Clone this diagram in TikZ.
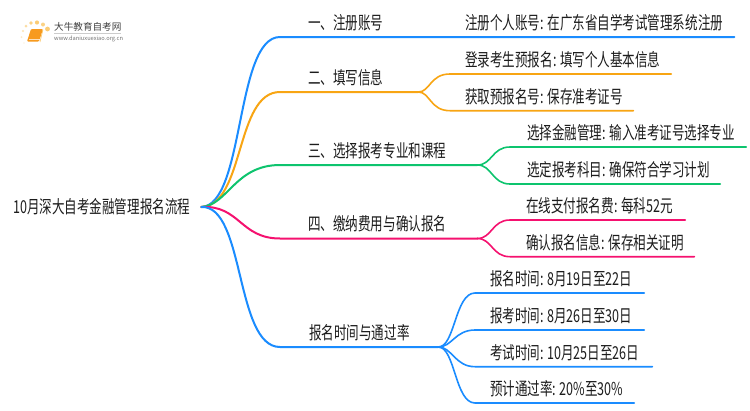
\documentclass[tikz,border=0pt]{standalone}
\usepackage{fontspec}
\setmainfont[FakeStretch=0.705]{Noto Sans CJK SC}
\newfontfamily\logofont{Noto Sans CJK SC}
\definecolor{cblue}{HTML}{1A8CFF}
\definecolor{corange}{HTML}{F8A513}
\definecolor{cgreen}{HTML}{0DC46E}
\definecolor{cpink}{HTML}{F5116F}
\definecolor{ctext}{HTML}{1C1C1C}
\definecolor{logoor}{HTML}{F79A1E}
\definecolor{logodot}{HTML}{FBC766}
\newcommand{\tightwords}{\frenchspacing\spaceskip=3.5pt\relax\xspaceskip=3.5pt\relax}
\tikzset{
  lab/.style={anchor=south west,inner xsep=0pt,inner ysep=0pt,align=left,text height=14pt,text depth=7.5pt,font=\fontsize{17.8}{20}\selectfont,execute at begin node=\tightwords,text=ctext},
  conn/.style={line width=1.6pt,line cap=round},
  trunk/.style={line width=2pt,line cap=round},
}
\begin{document}
\begin{tikzpicture}[x=1pt,y=-1pt]
\useasboundingbox (0,0) rectangle (750,410);
\fill[white] (0,0) rectangle (750,410);
% logo
\foreach \px/\py/\pr/\po in {47.5/29/2.4/.9,43/24.5/2/.8,37/22.5/2.1/.9,31/23/1.8/.8,26/26/1.5/.6,23/31/1.2/.5,21.5/37/1/.35,24/43/.9/.2}
  \fill[logodot,opacity=\po] (\px,\py) circle (\pr);
\fill[logoor,rounded corners=1pt] (27,41.5) -- (31,29) -- (43,29) -- (39,41.5) -- cycle;
\draw[white,opacity=.7,line width=.7pt] (29,39) -- (39.5,39);
\draw[logodot,line width=.6pt] (43,29.5) -- (40,42);
\node[inner sep=0pt,anchor=west,text=black!75,font=\logofont\fontsize{9.6}{10}\selectfont] (logoa) at (54,27) {大牛教育自考网};
\node[inner sep=0pt,anchor=west,text=black!55,font=\logofont\fontsize{5.7}{7}\selectfont] (logob) at (54,39) {www.daniuxuexiao.org.cn};
\draw[black!20,line width=.5pt] (logoa.south west)++(0,1.5) -- ++(67,0);
% root
\node[anchor=west,inner xsep=0pt,inner ysep=0pt,text width=188pt,align=left,text=ctext,font=\fontsize{17.8}{20}\selectfont] (root) at (13,207) {10月深大自考金融管理报名流程};
\coordinate (rootout) at (root.east);
% level one
\node[lab,text width=77pt] (a) at (308,37) {一、注册账号};
\node[lab,text width=110pt] (b) at (308,92) {二、填写信息};
\node[lab,text width=169pt] (c) at (308,165) {三、选择报考专业和课程};
\node[lab,text width=169pt] (d) at (308,238.5) {四、缴纳费用与确认报名};
\node[lab,text width=129pt] (e) at (309,347) {报名时间与通过率};
% level two
\node[lab,text width=269pt] (a1) at (465,37) {注册个人账号: 在广东省自学考试管理系统注册};
\node[lab,text width=206pt] (b1) at (465,74) {登录考生预报名: 填写个人基本信息};
\node[lab,text width=168pt] (b2) at (465,110.7) {获取预报名号: 保存准考证号};
\node[lab,text width=219pt] (c1) at (527,147) {选择金融管理: 输入准考证号选择专业};
\node[lab,text width=193pt] (c2) at (527,184) {选定报考科目: 确保符合学习计划};
\node[lab,text width=159pt] (d1) at (526,220) {在线支付报名费: 每科52元};
\node[lab,text width=168pt] (d2) at (526,256.7) {确认报名信息: 保存相关证明};
\node[lab,text width=154pt] (e1) at (490,293) {报名时间: 8月19日至22日};
\node[lab,text width=154pt] (e2) at (490,330) {报考时间: 8月26日至30日};
\node[lab,text width=162pt] (e3) at (490,366.7) {考试时间: 10月25日至26日};
\node[lab,text width=144pt] (e4) at (490,403) {预计通过率: 20\%至30\%};
% bends at the ends of the curves
\coordinate (ba) at (280,37);
\coordinate (bb) at (280,92);
\coordinate (bc) at (280,165);
\coordinate (bd) at (280,238.5);
\coordinate (be) at (280,347);
% connectors root -> level one
\draw[trunk,cblue] (rootout) .. controls (245,205) and (235,37) .. (ba) -- (a.south east) -- (a1.south east);
\draw[trunk,corange] (rootout) .. controls (245,205) and (235,92) .. (bb) -- (b.south east);
\draw[trunk,cgreen] (rootout) .. controls (228,205) and (235,165) .. (bc) -- (c.south east);
\draw[trunk,cpink] (rootout) .. controls (240,205) and (240,238.5) .. (bd) -- (d.south east);
\draw[trunk,cblue] (rootout) .. controls (245,205) and (235,347) .. (be) -- (e.south east);
% level one -> level two
\coordinate (bb1) at (450,74);
\coordinate (bb2) at (450,110.7);
\draw[conn,corange] (b.south east) .. controls (430,92) and (430,74) .. (bb1) -- (b1.south east);
\draw[conn,corange] (b.south east) .. controls (430,92) and (430,110.7) .. (bb2) -- (b2.south east);
\coordinate (bc1) at (510,147);
\coordinate (bc2) at (510,184);
\draw[conn,cgreen] (c.south east) .. controls (492,165) and (492,147) .. (bc1) -- (c1.south east);
\draw[conn,cgreen] (c.south east) .. controls (492,165) and (492,184) .. (bc2) -- (c2.south east);
\coordinate (bd1) at (510,220);
\coordinate (bd2) at (510,256.7);
\draw[conn,cpink] (d.south east) .. controls (492,238.5) and (492,220) .. (bd1) -- (d1.south east);
\draw[conn,cpink] (d.south east) .. controls (492,238.5) and (492,256.7) .. (bd2) -- (d2.south east);
\coordinate (be1) at (475,293);
\coordinate (be2) at (475,330);
\coordinate (be3) at (475,366.7);
\coordinate (be4) at (475,403);
\draw[conn,cblue] (e.south east) .. controls (455,347) and (455,293) .. (be1) -- (e1.south east);
\draw[conn,cblue] (e.south east) .. controls (452,347) and (455,330) .. (be2) -- (e2.south east);
\draw[conn,cblue] (e.south east) .. controls (452,347) and (455,366.7) .. (be3) -- (e3.south east);
\draw[conn,cblue] (e.south east) .. controls (455,347) and (455,403) .. (be4) -- (e4.south east);
\end{tikzpicture}
\end{document}
